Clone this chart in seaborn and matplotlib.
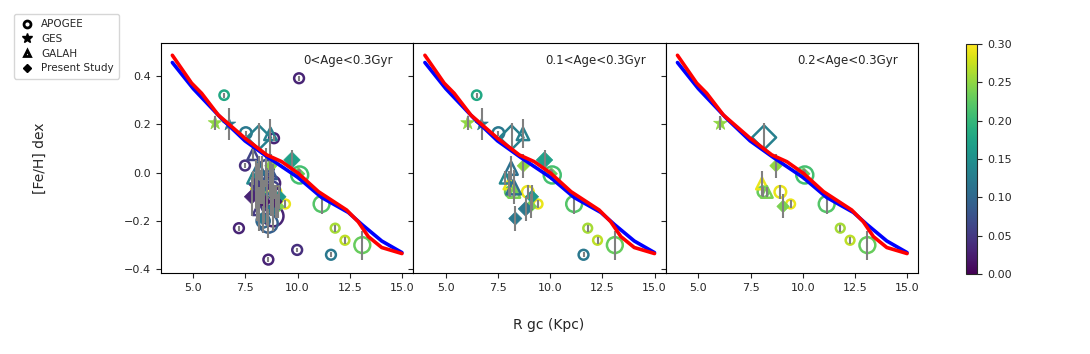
import matplotlib
matplotlib.use("Agg")
import matplotlib.pyplot as plt
from matplotlib.lines import Line2D
from matplotlib.colors import Normalize
from matplotlib.cm import ScalarMappable
import numpy as np
import pandas as pd
import seaborn as sns

# ---- data ------------------------------------------------------------------
# radial gradient curves
blue_r = [4.0, 5.0, 6.36, 7.48, 8.6, 10.03, 11.15, 12.43, 13.07, 14.03, 15.0]
blue_feh = [0.455, 0.347, 0.223, 0.131, 0.062, -0.021, -0.103, -0.165, -0.214, -0.283, -0.331]
red_r = [4.0, 4.92, 5.4, 6.2, 7.48, 8.52, 9.24, 10.03, 11.0, 12.35, 12.9, 13.39, 14.03, 15.0]
red_feh = [0.485, 0.37, 0.328, 0.238, 0.142, 0.073, 0.045, -0.003, -0.079, -0.155, -0.203, -0.265, -0.31, -0.335]

# clusters: R, [Fe/H], error, age (Gyr), survey, marker area, open marker, panels shown
r_gc = [6.05, 8.15, 8.72, 10.1, 10.05, 8.05, 8.1, 8.28, 8.93, 9.42, 9.06, 11.15, 11.8, 12.27, 13.1,
        6.48, 6.72, 7.52, 8.7, 9.73, 8.13, 7.85, 8.25, 9.13, 8.82, 8.33, 11.6,
        10.07, 8.87, 7.48, 7.87, 7.19, 9.98, 8.6,
        7.8, 8.0, 8.3, 8.55, 8.83, 8.6, 8.83, 8.4, 8.15, 8.7, 8.95, 8.5, 8.35, 8.05, 8.75]
feh = [0.205, 0.145, 0.028, -0.01, -0.005, -0.045, -0.08, -0.08, -0.08, -0.13, -0.14, -0.13, -0.23, -0.28, -0.30,
       0.32, 0.2, 0.163, 0.16, 0.052, 0.018, -0.023, -0.06, -0.1, -0.15, -0.19, -0.34,
       0.39, 0.142, 0.029, 0.076, -0.23, -0.32, -0.36,
       -0.1, -0.05, -0.03, -0.1, -0.18, -0.21, -0.044, -0.12, -0.15, 0.0, -0.12, 0.02, -0.2, -0.08, -0.07]
feh_err = [0.03, 0.06, 0.05, 0.02, 0.02, 0.05, 0.02, 0.02, 0.03, 0.015, 0.05, 0.04, 0.015, 0.015, 0.06,
           0.01, 0.065, 0.01, 0.06, 0.04, 0.05, 0.03, 0.07, 0.05, 0.05, 0.05, 0.01,
           0.01, 0.01, 0.01, 0.02, 0.01, 0.01, 0.01,
           0.08, 0.1, 0.1, 0.12, 0.06, 0.06, 0.08, 0.09, 0.09, 0.1, 0.07, 0.08, 0.05, 0.12, 0.11]
age = [0.25, 0.13, 0.25, 0.21, 0.23, 0.29, 0.23, 0.24, 0.29, 0.29, 0.24, 0.22, 0.26, 0.27, 0.23,
       0.18, 0.12, 0.12, 0.13, 0.17, 0.11, 0.14, 0.11, 0.16, 0.12, 0.12, 0.12,
       0.03, 0.03, 0.04, 0.06, 0.03, 0.04, 0.03,
       0.03, 0.05, 0.04, 0.06, 0.03, 0.09, 0.03, 0.02, 0.05, 0.08, 0.02, 0.07, 0.1, 0.04, 0.06]
survey = ["GES", "Present Study", "Present Study", "APOGEE", "Present Study", "GALAH", "APOGEE", "GALAH",
          "APOGEE", "APOGEE", "Present Study", "APOGEE", "APOGEE", "APOGEE", "APOGEE",
          "APOGEE", "GES", "APOGEE", "GALAH", "Present Study", "GALAH", "GALAH", "GALAH",
          "Present Study", "Present Study", "Present Study", "APOGEE",
          "APOGEE", "APOGEE", "APOGEE", "GALAH", "APOGEE", "APOGEE", "APOGEE",
          "Present Study", "Present Study", "APOGEE", "APOGEE", "APOGEE", "APOGEE", "APOGEE",
          "Present Study", "GALAH", "GALAH", "Present Study", "APOGEE", "APOGEE", "GALAH", "APOGEE"]
size = [110, 150, 40, 150, 40, 70, 60, 70, 70, 40, 40, 130, 40, 40, 130,
        45, 100, 70, 80, 70, 90, 60, 110, 45, 55, 45, 50,
        50, 50, 50, 70, 50, 50, 50,
        55, 50, 150, 200, 220, 180, 100, 50, 80, 90, 45, 120, 90, 90, 140]
is_open = [False, True, False, True, False, True, True, True, True, True, False, True, True, True, True,
           True, False, True, True, False, True, True, True, False, False, False, True,
           True, True, True, True, True, True, True,
           False, False, True, True, True, True, True, False, True, True, False, True, True, True, True]
n_panels = [3] * 15 + [2] * 12 + [1] * 22

panel_titles = ["0<Age<0.3Gyr", "0.1<Age<0.3Gyr", "0.2<Age<0.3Gyr"]
survey_markers = {"APOGEE": "o", "GES": "*", "GALAH": "^", "Present Study": "D"}
x_ticks = [5.0, 7.5, 10.0, 12.5, 15.0]
y_ticks = [-0.4, -0.2, 0.0, 0.2, 0.4]
cbar_ticks = [0.0, 0.05, 0.10, 0.15, 0.20, 0.25, 0.30]

sns.set_style("ticks")
plt.rcParams["font.family"] = ["DejaVu Sans"]

df = pd.DataFrame({
    "R": r_gc, "feh": feh, "err": feh_err, "age": age, "survey": survey,
    "s": size, "open": is_open, "n_panels": n_panels,
})

fig = plt.figure(figsize=(10.9, 3.54), dpi=100)
ax_w, ax_h, ax_b, ax_l = 0.2317, 0.65, 0.228, 0.1474
axes = []
for i in range(3):
    ax = fig.add_axes([ax_l + i * ax_w, ax_b, ax_w, ax_h],
                      sharey=axes[0] if axes else None)
    axes.append(ax)

for i, ax in enumerate(axes):
    sub = df[df["n_panels"] > i]
    for (srv, opn), grp in sub.groupby(["survey", "open"]):
        sns.scatterplot(data=grp, x="R", y="feh", hue="age", palette="viridis",
                        hue_norm=(0, 0.3), marker=survey_markers[srv],
                        legend=False, ax=ax, zorder=2)
        coll = ax.collections[-1]
        fc = coll.get_facecolors()
        coll.set_sizes(grp["s"].values)
        coll.set_edgecolors(fc)
        if opn:
            coll.set_facecolors("none")
            coll.set_linewidths(1.8)
        else:
            coll.set_linewidths(0.5)
    ax.errorbar(sub["R"], sub["feh"], yerr=sub["err"], fmt="none",
                ecolor="gray", elinewidth=1.5, zorder=3)
    sns.lineplot(x=blue_r, y=blue_feh, color="blue", lw=2.6, sort=False, ax=ax, zorder=4)
    sns.lineplot(x=red_r, y=red_feh, color="red", lw=2.6, sort=False, ax=ax, zorder=5)

    ax.text(0.92, 0.925, panel_titles[i], transform=ax.transAxes,
            ha="right", va="center", fontsize=8.5)
    ax.set_xlim(3.44, 15.54)
    ax.set_ylim(-0.4166, 0.535)
    ax.set_xticks(x_ticks)
    ax.set_yticks(y_ticks)
    ax.set_xlabel("")
    ax.set_ylabel("")
    ax.tick_params(labelsize=8, length=3.5, width=0.8)
    for sp in ax.spines.values():
        sp.set_linewidth(0.8)
        sp.set_color("black")
    if i > 0:
        ax.tick_params(labelleft=False)

cax = fig.add_axes([0.886, 0.226, 0.0106, 0.65])
sm = ScalarMappable(norm=Normalize(0, 0.3), cmap="viridis")
cbar = fig.colorbar(sm, cax=cax, ticks=cbar_ticks)
cbar.ax.tick_params(labelsize=8, length=3.5, width=0.8)
cbar.ax.yaxis.set_major_formatter(matplotlib.ticker.FormatStrFormatter("%.2f"))
cbar.outline.set_linewidth(0.8)

fig.text(0.037, 0.553, "[Fe/H] dex", rotation=90, ha="center", va="center", fontsize=10)
fig.text(0.503, 0.082, "R gc (Kpc)", ha="center", va="center", fontsize=10)

handles = [
    Line2D([], [], ls="none", marker="o", mfc="none", mec="black", mew=2, ms=5, label="APOGEE"),
    Line2D([], [], ls="none", marker="*", color="black", ms=7, label="GES"),
    Line2D([], [], ls="none", marker="^", mfc="none", mec="black", mew=2, ms=5, label="GALAH"),
    Line2D([], [], ls="none", marker="D", color="black", ms=4.5, label="Present Study"),
]
fig.legend(handles=handles, loc="upper left", bbox_to_anchor=(0.008, 0.975),
           fontsize=7.5, frameon=True, borderpad=0.5, handletextpad=0.6,
           labelspacing=0.45, handlelength=1.5, edgecolor="#cccccc")

fig.savefig("out.png", dpi=100)
